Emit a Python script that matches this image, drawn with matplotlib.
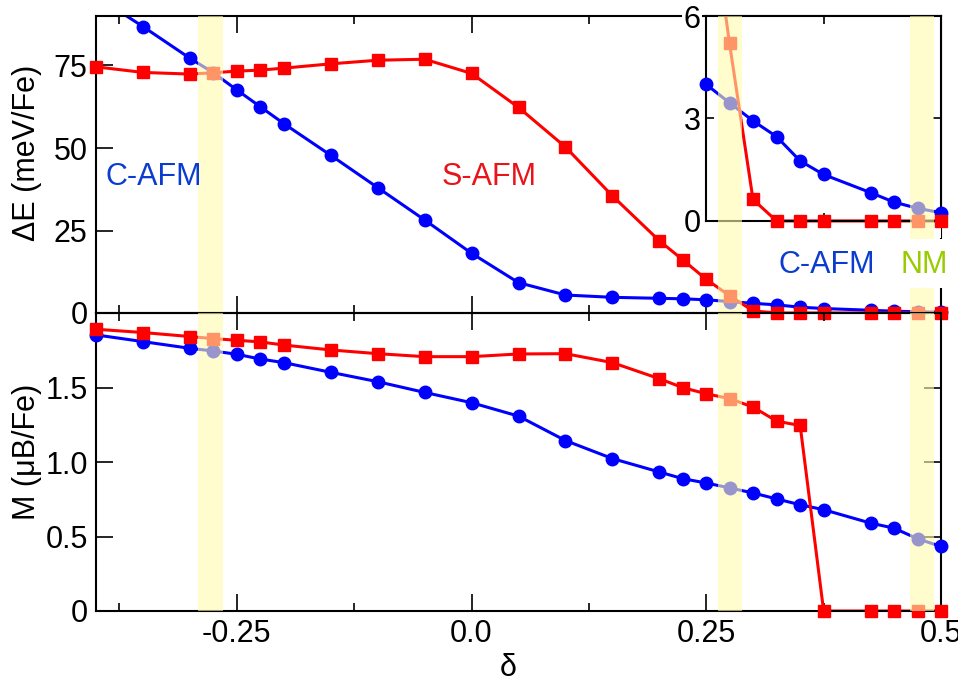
import numpy as np
import matplotlib
matplotlib.use("Agg")
import matplotlib.pyplot as plt
from matplotlib.patches import Rectangle
from matplotlib.ticker import FixedLocator

plt.rcParams['font.family'] = ['Liberation Sans', 'DejaVu Sans']

# doping levels
delta = [-0.40, -0.35, -0.30, -0.275, -0.25, -0.225, -0.20, -0.15, -0.10, -0.05,
         0.0, 0.05, 0.10, 0.15, 0.20, 0.225, 0.25, 0.275, 0.30, 0.325, 0.35,
         0.375, 0.425, 0.45, 0.475, 0.50]

# energy relative to ground state (meV/Fe)
dE_cafm = [96.0, 86.8, 77.2, 72.8, 67.6, 62.5, 57.4, 47.8, 38.0, 28.2,
           18.1, 9.2, 5.45, 4.75, 4.45, 4.3, 4.0, 3.46, 2.93, 2.47, 1.76,
           1.36, 0.83, 0.55, 0.37, 0.24]
dE_safm = [74.6, 72.9, 72.4, 72.8, 73.3, 73.6, 74.2, 75.5, 76.6, 76.9,
           72.6, 62.3, 50.3, 35.5, 21.9, 16.1, 10.2, 5.2, 0.63, 0.0, 0.0,
           0.0, 0.0, 0.0, 0.0, 0.0]

# magnetic moment (muB/Fe)
m_cafm = [1.853, 1.808, 1.763, 1.745, 1.723, 1.691, 1.667, 1.602, 1.539, 1.467,
          1.398, 1.308, 1.144, 1.023, 0.933, 0.888, 0.859, 0.826, 0.792, 0.752,
          0.713, 0.680, 0.590, 0.556, 0.485, 0.433]
m_safm = [1.891, 1.869, 1.842, 1.828, 1.817, 1.806, 1.785, 1.752, 1.727, 1.707,
          1.707, 1.725, 1.727, 1.667, 1.559, 1.499, 1.458, 1.425, 1.368, 1.274,
          1.245, 0.0, 0.0, 0.0, 0.0, 0.0]

# highlighted transition regions
bands = [(-0.2915, -0.265), (0.2628, 0.288), (0.4673, 0.493)]

BLUE = '#0000FF'
RED = '#FF0000'
BAND = (1.0, 250 / 255, 172 / 255)
FS = 22

fig = plt.figure(figsize=(9.58, 6.82), dpi=100)
W, H = 958.0, 682.0

def axes_px(l, t, r, b):
    return [l / W, 1 - b / H, (r - l) / W, (b - t) / H]

ax_top = fig.add_axes(axes_px(96, 16, 941, 313))
ax_bot = fig.add_axes(axes_px(96, 313, 941, 611))
ax_in = fig.add_axes(axes_px(706, 16, 941, 238))
for a in (ax_top, ax_bot):
    a.patch.set_visible(False)
ax_in.set_zorder(5)
ax_in.patch.set_facecolor('white')


def draw_series(ax, x, y, color, marker, ms, xlim, ylim):
    x = np.asarray(x)
    y = np.asarray(y)
    ax.plot(x, y, '-', color=color, lw=2.2, zorder=2)
    keep = (x >= xlim[0] - 1e-9) & (x <= xlim[1] + 1e-9) & \
           (y >= ylim[0] - 1e-9) & (y <= ylim[1] + 1e-9)
    ax.plot(x[keep], y[keep], linestyle='none', marker=marker, ms=ms,
            color=color, mec=color, clip_on=False, zorder=3)


def draw_bands(ax, ylim):
    for lo, hi in bands:
        ax.add_patch(Rectangle((lo, ylim[0]), hi - lo, ylim[1] - ylim[0],
                               facecolor=BAND, edgecolor='none', alpha=0.6,
                               zorder=4))


xlim = (-0.40, 0.50)
top_ylim = (0, 90)
bot_ylim = (0, 2.0)
in_xlim = (0.25, 0.50)
in_ylim = (-0.5, 6)

draw_series(ax_top, delta, dE_cafm, BLUE, 'o', 9, xlim, top_ylim)
draw_series(ax_top, delta, dE_safm, RED, 's', 8, xlim, top_ylim)
draw_bands(ax_top, top_ylim)

draw_series(ax_bot, delta, m_cafm, BLUE, 'o', 9, xlim, bot_ylim)
draw_series(ax_bot, delta, m_safm, RED, 's', 8, xlim, bot_ylim)
draw_bands(ax_bot, bot_ylim)

draw_series(ax_in, delta, dE_cafm, BLUE, 'o', 9, in_xlim, in_ylim)
draw_series(ax_in, delta, dE_safm, RED, 's', 8, in_xlim, in_ylim)
draw_bands(ax_in, in_ylim)

for a in (ax_top, ax_bot):
    a.set_xlim(*xlim)
    a.xaxis.set_major_locator(FixedLocator([-0.25, 0.0, 0.25, 0.5]))
    a.xaxis.set_minor_locator(FixedLocator([-0.375, -0.125, 0.125, 0.375]))
    a.tick_params(which='both', direction='in', top=True, right=True,
                  labelsize=FS, width=1.2)
    a.tick_params(which='major', length=12, pad=6)
    a.tick_params(which='minor', length=6)
    for s in a.spines.values():
        s.set_linewidth(1.5)

ax_top.set_ylim(*top_ylim)
ax_top.set_yticks([0, 25, 50, 75])
ax_top.set_yticklabels(['0', '25', '50', '75'])
ax_top.tick_params(labelbottom=False)

ax_bot.set_ylim(*bot_ylim)
ax_bot.set_yticks([0, 0.5, 1.0, 1.5])
ax_bot.set_yticklabels(['0', '0.5', '1.0', '1.5'])
ax_bot.set_xticklabels(['-0.25', '0.0', '0.25', '0.5'])

ax_top.set_ylabel('ΔE (meV/Fe)', fontsize=FS)
ax_top.yaxis.set_label_coords(-0.064, 0.54)
ax_bot.set_ylabel('M (μB/Fe)', fontsize=FS)
ax_bot.yaxis.set_label_coords(-0.064, 0.535)
fig.text(508 / W, 1 - 668 / H, 'δ', fontsize=FS, ha='center', va='center')

# inset: zoom on the large-doping end
ax_in.set_xlim(*in_xlim)
ax_in.set_ylim(*in_ylim)
ax_in.set_xticks([0.25, 0.375, 0.5])
ax_in.set_yticks([0, 3, 6])
ax_in.set_yticklabels(['0', '3', '6'])
ax_in.tick_params(which='both', direction='in', top=True, right=True,
                  labelbottom=False, labelsize=FS, length=6, width=1.2, pad=4)
ax_in.spines['left'].set_bounds(0, 6)
ax_in.spines['right'].set_bounds(0, 6)
ax_in.spines['bottom'].set_position(('data', 0))
for s in ax_in.spines.values():
    s.set_linewidth(1.5)
for lbl in ax_in.get_yticklabels():
    lbl.set_bbox(dict(facecolor='white', edgecolor='none', pad=1))

# phase labels
ax_top.text(-0.339, 41.2, 'C-AFM', color='#0A3CD0', fontsize=FS,
            ha='center', va='center', zorder=6)
ax_top.text(0.019, 41.2, 'S-AFM', color='#E8141A', fontsize=FS,
            ha='center', va='center', zorder=6)

fig.patches.append(Rectangle((760 / W, 1 - 288 / H), 195 / W, 49 / H,
                             transform=fig.transFigure, facecolor='white',
                             edgecolor='none', zorder=1))
fig.text(827 / W, 1 - 265 / H, 'C-AFM', color='#0A3CD0', fontsize=FS,
         ha='center', va='center', zorder=2)
fig.text(924 / W, 1 - 265 / H, 'NM', color='#99CC00', fontsize=FS,
         ha='center', va='center', zorder=2)

fig.savefig('out.png', dpi=100, facecolor='white')
